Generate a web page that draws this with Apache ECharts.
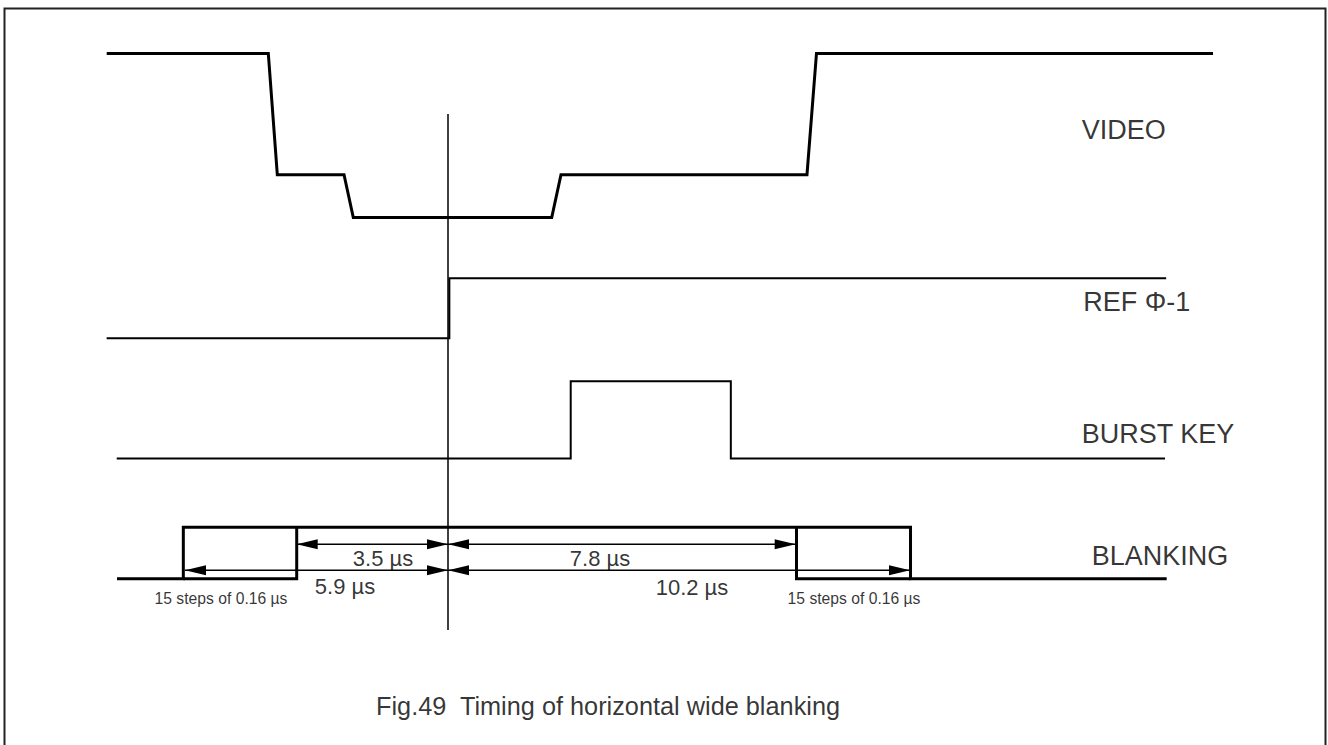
<!DOCTYPE html>
<html>
<head>
<meta charset="utf-8">
<script src="https://cdn.jsdelivr.net/npm/echarts@6/dist/echarts.min.js"></script>
<style>
  html, body { margin: 0; padding: 0; background: #fff; }
  #chart { width: 1328px; height: 745px; }
</style>
</head>
<body>
<div id="chart"></div>
<script>
// ---- Data (time in µs relative to the reference edge; level = vertical drawing row) ----
const videoT = [-7.618, -4.011, -3.810, -2.321, -2.114, 2.315, 2.522, 8.013, 8.225, 17.076];
const videoLevel = [53.5, 53.5, 174.7, 174.7, 217.5, 217.5, 174.7, 174.7, 53.5, 53.5];

const refT = [-7.62, 0.03, 0.03, 16.03];
const refLevel = [338.3, 338.3, 278.3, 278.3];

const burstT = [-7.395, 2.739, 2.739, 6.313, 6.313, 16.004];
const burstLevel = [458.6, 458.6, 381.3, 381.3, 458.6, 458.6];

const blankT = [-7.388, -5.908, -5.908, 10.324, 10.324, 16.042];
const blankLevel = [578.7, 578.7, 527.3, 527.3, 578.7, 578.7];
// inner step boxes of the blanking pulse (15 steps of 0.16 µs)
const stepBoxLeftT = [-5.908, -3.377, -3.377];
const stepBoxLeftLevel = [578.7, 578.7, 527.3];
const stepBoxRightT = [7.779, 7.779, 10.324];
const stepBoxRightLevel = [527.3, 578.7, 578.7];

const refEdgeT = [0, 0];
const refEdgeLevel = [114, 630];

// dimension arrows
const dimStart = [-3.377, -5.871, 0, 0];
const dimEnd = [0, 0, 7.761, 10.313];
const dimRow = [544.3, 570.2, 544.3, 570.2];
const dimText = ['3.5 µs', '5.9 µs', '7.8 µs', '10.2 µs'];
const dimTextT = [-1.451, -2.299, 3.393, 5.446];
const dimTextRow = [558.5, 586.5, 558.5, 587];

const stepText = ['15 steps of 0.16 µs', '15 steps of 0.16 µs'];
const stepTextT = [-5.067, 9.063];
const stepTextRow = [598.5, 598.5];

const signalNames = ['VIDEO', 'REF Φ-1', 'BURST KEY', 'BLANKING'];
const signalNameT = [14.145, 14.181, 14.145, 14.368];
const signalNameRow = [130, 301.5, 433.5, 555.5];

const captionText = 'Fig.49  Timing of horizontal wide blanking';
const captionT = [-1.607];
const captionRow = [706];

// ---- Build chart ----
const zip = (a, b) => a.map((v, i) => [v, b[i]]);
const FONT = 'Liberation Sans, Arial, Helvetica, sans-serif';

function wave(name, t, lv, width) {
  return {
    name, type: 'line', data: zip(t, lv), symbol: 'none', silent: true,
    lineStyle: { color: '#000', width: width, join: 'miter', cap: 'butt' },
    z: 3
  };
}

function textSeries(name, t, rows, texts, size, pos) {
  return {
    name, type: 'scatter', symbolSize: 0, silent: true, z: 5,
    data: t.map((v, i) => [v, rows[i], texts[i]]),
    label: {
      show: true, position: pos, distance: 0,
      formatter: p => p.data[2],
      color: '#000', fontFamily: FONT, fontSize: size,
      align: pos === 'right' ? 'left' : 'center', verticalAlign: 'middle'
    }
  };
}

const chart = echarts.init(document.getElementById('chart'), null, { renderer: 'svg' });
chart.setOption({
  animation: false,
  backgroundColor: '#fff',
  grid: { left: 0, right: 0, top: 0, bottom: 0 },
  xAxis: { type: 'value', min: -10, max: 1328 / 44.8 - 10, show: false },
  yAxis: { type: 'value', min: 0, max: 745, inverse: true, show: false },
  graphic: [{
    type: 'rect', silent: true,
    shape: { x: 4.5, y: 8.5, width: 1321, height: 745 },
    style: { fill: 'none', stroke: '#222', lineWidth: 2 }
  }],
  series: [
    wave('VIDEO', videoT, videoLevel, 3),
    wave('REF Φ-1', refT, refLevel, 2),
    wave('BURST KEY', burstT, burstLevel, 2),
    wave('BLANKING', blankT, blankLevel, 3),
    wave('step box left', stepBoxLeftT, stepBoxLeftLevel, 3),
    wave('step box right', stepBoxRightT, stepBoxRightLevel, 3),
    wave('reference edge', refEdgeT, refEdgeLevel, 1.5),
    {
      name: 'dimensions', type: 'custom', silent: true, z: 4,
      data: dimStart.map((s, i) => [s, dimEnd[i], dimRow[i]]),
      encode: { x: [0, 1], y: 2 },
      renderItem: function (params, api) {
        const a = api.coord([api.value(0), api.value(2)]);
        const b = api.coord([api.value(1), api.value(2)]);
        const L = 21, H = 5;
        return {
          type: 'group',
          children: [
            { type: 'line', shape: { x1: a[0], y1: a[1], x2: b[0], y2: b[1] },
              style: { stroke: '#000', lineWidth: 1.5 } },
            { type: 'polygon', shape: { points: [[a[0], a[1]], [a[0] + L, a[1] - H], [a[0] + L, a[1] + H]] },
              style: { fill: '#000' } },
            { type: 'polygon', shape: { points: [[b[0], b[1]], [b[0] - L, b[1] - H], [b[0] - L, b[1] + H]] },
              style: { fill: '#000' } }
          ]
        };
      }
    },
    textSeries('dim labels', dimTextT, dimTextRow, dimText, 22, 'inside'),
    textSeries('step labels', stepTextT, stepTextRow, stepText, 15.7, 'inside'),
    textSeries('signal names', signalNameT, signalNameRow, signalNames, 27, 'right'),
    textSeries('caption', captionT, captionRow, [captionText], 25.3, 'right')
  ]
});
</script>
</body>
</html>
